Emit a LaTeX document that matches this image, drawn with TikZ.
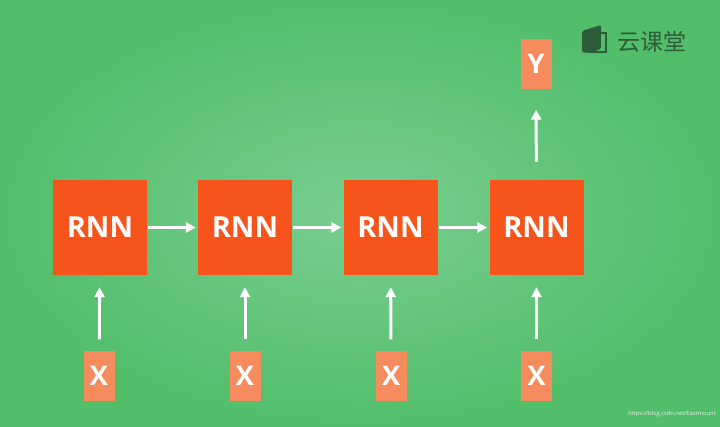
\documentclass[tikz,border=0pt]{standalone}
\usepackage{fontspec}
\setsansfont{Open Sans}
\newfontfamily\cjk{Noto Sans CJK SC}
\usetikzlibrary{arrows.meta}

\definecolor{bggreen}{RGB}{82,190,106}
\definecolor{bglight}{RGB}{120,206,144}
\definecolor{rnnred}{RGB}{246,84,27}
\definecolor{inorange}{RGB}{246,140,94}
\definecolor{logogreen}{RGB}{44,92,56}

\begin{document}
\begin{tikzpicture}[x=1pt, y=-1pt,
  rnn/.style={rectangle, fill=rnnred, minimum width=94pt, minimum height=95pt, inner sep=0pt, text=white, font=\sffamily\bfseries\fontsize{29}{29}\selectfont},
  io/.style={rectangle, fill=inorange, minimum width=31pt, minimum height=50pt, inner sep=0pt, text=white, font=\sffamily\bfseries\fontsize{27}{27}\selectfont},
  flow/.style={draw=white, line width=3pt, -{Triangle[length=10pt, width=10pt]}}]

%%% background
\useasboundingbox (0,0) rectangle (720,426);
\shade [inner color=bglight, outer color=bggreen] (0,0) rectangle (720,426);

%%% nodes

% rnn nodes
\node [rnn] (r1) at (100,227.5) {RNN};
\node [rnn] (r2) at (245,227.5) {RNN};
\node [rnn] (r3) at (390.5,227.5) {RNN};
\node [rnn] (r4) at (536.5,227.5) {RNN};

% input nodes
\node [io] (x1) at (99,375.5) {X};
\node [io] (x2) at (245,375.5) {X};
\node [io] (x3) at (391,375.5) {X};
\node [io] (x4) at (536.5,375.5) {X};

% output node
\node [io] (y) at (536,63.5) {Y};

% logo
\fill [logogreen, rounded corners=1.5pt] (582,31) -- (601,25) -- (601,49) -- (590,52.5) -- (582,52.5) -- cycle;
\draw [logogreen, line width=2pt] (601,33) -- (606,33) -- (606,51.5) -- (588,51.5);
\node [anchor=west, text=logogreen, inner sep=0pt, font=\cjk\fontsize{23}{23}\selectfont] (logo) at (617,42) {云课堂};

% watermark
\node [anchor=east, text=white, opacity=0.85, inner sep=0pt, font=\sffamily\fontsize{5.8}{5.8}\selectfont] (mark) at (716,414) {https://blog.csdn.net/Eastmount};

%%% edges

% hidden state
\draw [flow, shorten <=1pt, shorten >=2pt] (r1) -- (r2);
\draw [flow, shorten <=1pt, shorten >=2pt] (r2) -- (r3);
\draw [flow, shorten <=1pt, shorten >=2pt] (r3) -- (r4);

% inputs
\draw [flow, shorten <=11pt, shorten >=12pt] (x1) -- (r1);
\draw [flow, shorten <=11pt, shorten >=12pt] (x2) -- (r2);
\draw [flow, shorten <=11pt, shorten >=12pt] (x3) -- (r3);
\draw [flow, shorten <=11pt, shorten >=12pt] (x4) -- (r4);

% output
\draw [flow, shorten <=18pt, shorten >=21pt] (r4) -- (y);
\end{tikzpicture}
\end{document}
